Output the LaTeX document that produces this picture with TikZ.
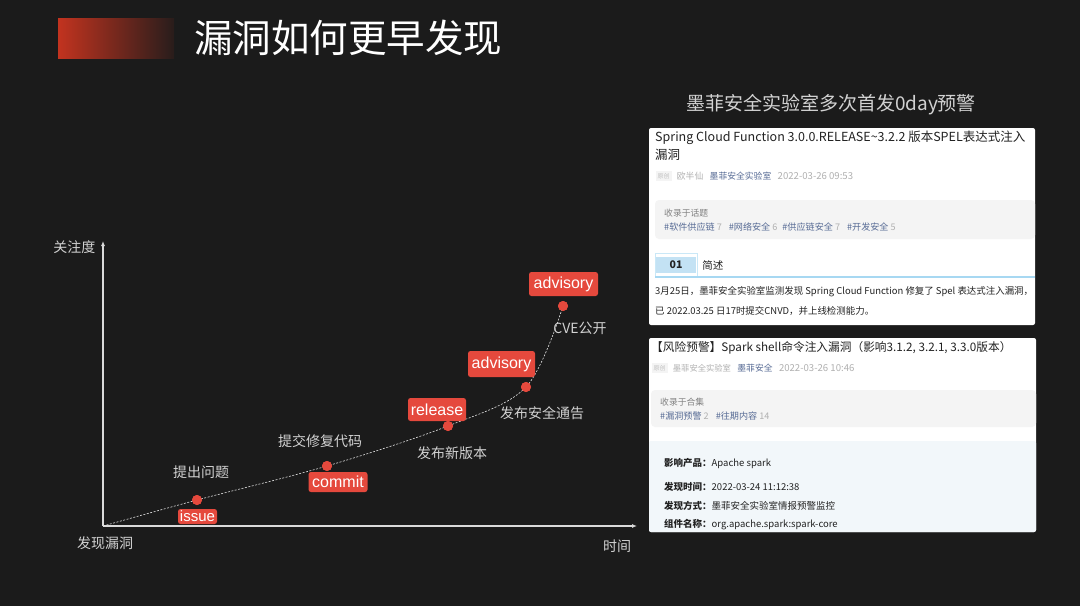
\documentclass[tikz,border=0pt]{standalone}
\usepackage{fontspec}
\setmainfont{Noto Sans CJK SC}
\newfontfamily\latinfont{Liberation Sans}
\usetikzlibrary{arrows.meta, positioning}
\definecolor{bgdark}{HTML}{1B1B1B}
\definecolor{alertred}{HTML}{E5493D}
\definecolor{titlered}{HTML}{C2331F}
\definecolor{axisgray}{HTML}{DADADA}
\definecolor{labelgray}{HTML}{D2D2D2}
\definecolor{linkblue}{HTML}{576B95}
\definecolor{metagray}{HTML}{B0B0B0}
\definecolor{boxgray}{HTML}{F4F4F4}
\definecolor{tagblue}{HTML}{C3E2F4}
\definecolor{rulerblue}{HTML}{A7D8F2}
\definecolor{infobg}{HTML}{F2F7FA}
\definecolor{cardtext}{HTML}{222222}
\newcommand{\fsz}[1]{\fontsize{#1}{#1}\selectfont}

\begin{document}
\begin{tikzpicture}[x=1pt, y=-1pt,
  axis/.style={draw=axisgray, line width=1.2pt, -{Latex[length=5pt, width=4pt]}},
  curve/.style={draw=axisgray!75, dash pattern=on 2pt off 1.5pt, line width=0.6pt},
  dot/.style={circle, fill=alertred, minimum size=10pt, inner sep=0pt},
  tagbox/.style={fill=alertred, text=white, rounded corners=2.5pt, inner sep=0pt,
                 font=\latinfont\fsz{16}},
  stage/.style={text=labelgray, font=\fsz{14}},
  ctext/.style={anchor=west, inner sep=0pt, text=cardtext},
  meta/.style={anchor=west, inner sep=0pt, text=metagray, font=\fsz{8.8}},
  origtag/.style={fill=boxgray, text=metagray!80, inner sep=0pt, minimum width=16pt,
                  minimum height=10pt, font=\fsz{6}}]
  \fill[bgdark] (0,0) rectangle (1080,606);
  %--- title ------------------------------------------------------------------
  \shade[left color=titlered, right color=bgdark!92!titlered] (58,18) rectangle (174,58);
  \node[anchor=west, inner sep=0pt, text=white, font=\fsz{38.5}] (title) at (194,38)
    {漏洞如何更早发现};
  %--- attention curve --------------------------------------------------------
  \coordinate (origin) at (103,526);
  \coordinate (ytip) at (103,241);
  \coordinate (xtip) at (637,526);
  \draw[axis] (origin) -- (ytip);
  \draw[axis] (origin) -- (xtip);
  \node[stage, anchor=east] (ylabel) at (99,247) {关注度};
  \node[stage] (start) at (105,543) {发现漏洞};
  \node[stage] (xlabel) at (617,546) {时间};
  % points in time
  \node[dot] (issuedot) at (197,500) {};
  \node[dot] (commitdot) at (327,466) {};
  \node[dot] (releasedot) at (448,426) {};
  \node[dot] (noticedot) at (526,387) {};
  \node[dot] (cvedot) at (563,306) {};
  \draw[curve] plot[smooth, tension=0.55] coordinates {(origin) (issuedot.center)
    (commitdot.center) (releasedot.center) (noticedot.center) (cvedot.center)};
  \node[dot] at (issuedot) {};
  \node[dot] at (commitdot) {};
  \node[dot] at (releasedot) {};
  \node[dot] at (noticedot) {};
  \node[dot] at (cvedot) {};
  % red tags
  \node[tagbox, font=\latinfont\fsz{15}, minimum width=39pt, minimum height=15pt]
    (issue) at (197.5,516.5) {issue};
  \node[tagbox, minimum width=59pt, minimum height=20pt] (commit) at (338,482) {commit};
  \node[tagbox, minimum width=58pt, minimum height=23pt] (release) at (437,409.5) {release};
  \node[tagbox, minimum width=67pt, minimum height=26pt] (notice) at (501.5,364) {advisory};
  \node[tagbox, minimum width=69pt, minimum height=24pt] (cve) at (563.5,284) {advisory};
  % stage labels
  \node[stage] (ask) at (201,472) {提出问题};
  \node[stage] (fix) at (320,441) {提交修复代码};
  \node[stage] (ship) at (452,453) {发布新版本};
  \node[stage] (warn) at (542,413) {发布安全通告};
  \node[stage] (public) at (580,328) {CVE公开};
  %--- right column: articles -------------------------------------------------
  \node[text=labelgray, font=\fsz{19}] (cardhead) at (831,105) {墨菲安全实验室多次首发0day预警};
  % first article
  \fill[white, rounded corners=2pt] (649,128) rectangle (1035,325);
  \node[ctext, font=\fsz{12.5}] (springtitle) at (655,138)
    {Spring Cloud Function 3.0.0.RELEASE\textasciitilde3.2.2 版本SPEL表达式注入};
  \node[ctext, font=\fsz{12.5}] at (655,155) {漏洞};
  \node[origtag] (orig1) at (663.5,176) {原创};
  \node[meta, right=5pt of orig1] (author1) {欧半仙};
  \node[meta, text=linkblue, right=6pt of author1] (account1) {墨菲安全实验室};
  \node[meta, font=\fsz{9.6}, right=6pt of account1] (date1) {2022-03-26 09:53};
  \fill[boxgray, rounded corners=4pt] (655,200) rectangle (1035,239);
  \node[meta, text=gray] at (664,213) {收录于话题};
  \node[meta, font=\fsz{9.1}] at (664,227) {\textcolor{linkblue}{\#软件供应链} 7\hspace{5pt}
    \textcolor{linkblue}{\#网络安全} 6\hspace{5pt}\textcolor{linkblue}{\#供应链安全} 7\hspace{5pt}
    \textcolor{linkblue}{\#开发安全} 5};
  \draw[rulerblue!60] (655,253) rectangle (697,277);
  \node[fill=tagblue, inner sep=0pt, minimum width=40pt, minimum height=16pt,
    text=cardtext, font=\bfseries\fsz{10.5}] (part) at (676,265) {01};
  \draw[rulerblue, line width=1.5pt] (655,277) -- (1035,277);
  \node[ctext, font=\fsz{10.5}, right=6pt of part] {简述};
  \node[ctext, font=\fsz{9.45}] at (655,292)
    {3月25日，墨菲安全实验室监测发现 Spring Cloud Function 修复了 Spel 表达式注入漏洞，};
  \node[ctext, font=\fsz{9.45}] at (655,311) {已 2022.03.25 日17时提交CNVD，并上线检测能力。};
  % second article
  \fill[white, rounded corners=2pt] (649,338) rectangle (1036,532);
  \fill[infobg, rounded corners=2pt] (649,441) rectangle (1036,532);
  \node[ctext, font=\fsz{11.7}] (sparktitle) at (651,348)
    {【风险预警】Spark shell命令注入漏洞（影响3.1.2, 3.2.1, 3.3.0版本）};
  \node[origtag] (orig2) at (659.5,368) {原创};
  \node[meta, font=\fsz{8.3}, right=5pt of orig2] (author2) {墨菲安全实验室};
  \node[meta, text=linkblue, right=6pt of author2] (account2) {墨菲安全};
  \node[meta, font=\fsz{9.6}, right=6pt of account2] (date2) {2022-03-26 10:46};
  \fill[boxgray, rounded corners=4pt] (651,390) rectangle (1036,427);
  \node[meta, text=gray] at (660,402) {收录于合集};
  \node[meta, font=\fsz{9.1}] at (660,416) {\textcolor{linkblue}{\#漏洞预警} 2\hspace{5pt}
    \textcolor{linkblue}{\#往期内容} 14};
  \node[ctext, font=\fsz{9.5}] at (664,463) {\textbf{影响产品：}Apache spark};
  \node[ctext, font=\fsz{9.5}] at (664,487) {\textbf{发现时间：}2022-03-24 11:12:38};
  \node[ctext, font=\fsz{9.5}] at (664,506) {\textbf{发现方式：}墨菲安全实验室情报预警监控};
  \node[ctext, font=\fsz{9.5}] at (664,525) {\textbf{组件名称：}org.apache.spark:spark-core};
\end{tikzpicture}
\end{document}
